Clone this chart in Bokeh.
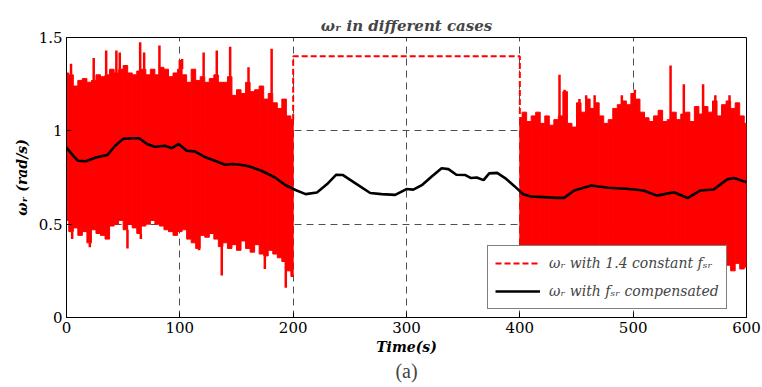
import numpy as np
from bokeh.plotting import figure
from bokeh.models import Range1d, FixedTicker, Legend, LegendItem, Title
from bokeh.embed import file_html
from bokeh.resources import INLINE

# ---------------- data ----------------
# case 1: 0-200 s and 400-600 s, noisy omega_r with constant f_sr (envelope every 4 s)
t1 = list(range(0, 201, 4))
hi1 = [1.31, 1.30, 1.24, 1.27, 1.28, 1.26, 1.27, 1.30, 1.29, 1.30, 1.33, 1.31, 1.33,
       1.35, 1.31, 1.30, 1.32, 1.33, 1.30, 1.33, 1.30, 1.34, 1.33, 1.29, 1.31, 1.33,
       1.30, 1.26, 1.33, 1.27, 1.29, 1.26, 1.28, 1.30, 1.26, 1.26, 1.29, 1.19, 1.22,
       1.20, 1.26, 1.21, 1.22, 1.24, 1.17, 1.20, 1.15, 1.12, 1.17, 1.08, 1.06]
lo1 = [0.52, 0.46, 0.48, 0.44, 0.46, 0.40, 0.47, 0.45, 0.44, 0.42, 0.49, 0.50, 0.52,
       0.47, 0.50, 0.48, 0.45, 0.49, 0.50, 0.52, 0.50, 0.49, 0.47, 0.46, 0.44, 0.46,
       0.47, 0.42, 0.40, 0.37, 0.44, 0.43, 0.45, 0.42, 0.38, 0.40, 0.37, 0.39, 0.36,
       0.41, 0.37, 0.35, 0.39, 0.34, 0.33, 0.36, 0.34, 0.32, 0.30, 0.25, 0.22]
t2 = list(range(400, 601, 4))
hi2 = [1.07, 1.10, 1.05, 1.08, 1.10, 1.04, 1.08, 1.03, 1.06, 1.08, 1.21, 1.04, 1.02,
       1.15, 1.10, 1.17, 1.12, 1.15, 1.08, 1.04, 1.06, 1.12, 1.14, 1.16, 1.14, 1.20,
       1.17, 1.10, 1.07, 1.05, 1.08, 1.11, 1.05, 1.06, 1.10, 1.06, 1.09, 1.10, 1.05,
       1.13, 1.09, 1.13, 1.10, 1.16, 1.08, 1.14, 1.16, 1.12, 1.15, 1.08, 1.04]
lo2 = [0.30, 0.28, 0.33, 0.27, 0.31, 0.29, 0.34, 0.28, 0.30, 0.26, 0.32, 0.29, 0.27,
       0.33, 0.30, 0.28, 0.31, 0.26, 0.29, 0.32, 0.28, 0.30, 0.27, 0.31, 0.29, 0.33,
       0.28, 0.30, 0.26, 0.31, 0.29, 0.27, 0.32, 0.30, 0.28, 0.31, 0.27, 0.29, 0.33,
       0.28, 0.30, 0.26, 0.29, 0.31, 0.27, 0.30, 0.28, 0.25, 0.29, 0.26, 0.27]
spike_up_t = [4, 24, 35, 44, 47, 54, 65, 68.5, 82, 100, 102, 121, 132.6, 144.4, 160.6, 181,
              435, 439.5, 452.6, 458.5, 466, 490, 501.5, 533, 544.7, 561.7, 572.5, 585]
spike_up_v = [1.36, 1.39, 1.43, 1.43, 1.42, 1.35, 1.475, 1.42, 1.457, 1.38, 1.385, 1.42, 1.43,
              1.45, 1.34, 1.44, 1.30, 1.22, 1.17, 1.19, 1.19, 1.19, 1.22, 1.35, 1.25, 1.25,
              1.19, 1.19]
spike_dn_t = [5, 20.6, 53.8, 65.6, 117, 137, 175, 193.5]
spike_dn_v = [0.42, 0.377, 0.37, 0.42, 0.36, 0.225, 0.26, 0.16]
const_t = [200, 200, 400, 400]
const_v = [1.06, 1.40, 1.40, 1.07]

# case 2: omega_r with f_sr compensated
comp_t = [0, 6, 10, 17, 26, 36, 43, 50, 58, 64, 71, 78, 87, 93, 99, 106, 113, 122, 131,
          140, 146, 152, 161, 172, 184, 193, 202, 211, 221, 230, 238, 244, 254, 268, 278,
          290, 300, 306, 314, 322, 331, 337, 344, 352, 357, 362, 368, 373, 380, 387, 395,
          403, 410, 421, 431, 439, 448, 463, 478, 494, 509, 521, 536, 548, 559, 571, 583,
          589, 600]
comp_w = [0.91, 0.866, 0.84, 0.837, 0.857, 0.87, 0.92, 0.957, 0.96, 0.96, 0.93, 0.915,
          0.92, 0.907, 0.93, 0.893, 0.89, 0.86, 0.84, 0.818, 0.822, 0.82, 0.81, 0.786,
          0.75, 0.71, 0.683, 0.661, 0.67, 0.715, 0.765, 0.763, 0.723, 0.667, 0.661, 0.657,
          0.688, 0.685, 0.711, 0.754, 0.80, 0.795, 0.765, 0.763, 0.747, 0.75, 0.736, 0.772,
          0.775, 0.747, 0.705, 0.66, 0.648, 0.645, 0.641, 0.641, 0.68, 0.707, 0.695, 0.69,
          0.68, 0.653, 0.671, 0.64, 0.68, 0.686, 0.74, 0.747, 0.725]

x_ticks = [0, 100, 200, 300, 400, 500, 600]
y_ticks = [0, 0.5, 1, 1.5]
y_tick_labels = ["0", "0.5", "1", "1.5"]

label_const = "\u03c9\u1d63 with 1.4 constant f\u209b\u1d63"
label_comp = "\u03c9\u1d63 with f\u209b\u1d63 compensated"

RED = "#ff0000"
SERIF = "DejaVu Serif"

# ---------------- figure ----------------
p = figure(width=762, height=387, x_range=Range1d(0, 600), y_range=Range1d(0, 1.5),
           output_backend="svg", toolbar_location=None,
           min_border_left=66, min_border_right=16, min_border_top=37, min_border_bottom=70)
p.background_fill_color = "white"
p.outline_line_color = "black"
p.outline_line_width = 1

p.title.text = "\u03c9\u1d63 in different cases"
p.title.align = "center"
p.title.text_font = SERIF
p.title.text_font_style = "bold italic"
p.title.text_font_size = "15px"
p.title.standoff = 6

# grid
p.xgrid.ticker = FixedTicker(ticks=x_ticks[1:-1])
p.ygrid.ticker = FixedTicker(ticks=y_ticks[1:-1])
for g in (p.xgrid, p.ygrid):
    g.grid_line_color = "#505050"
    g.grid_line_dash = "7 5"
    g.grid_line_width = 1

# red noisy band (case 1)
def band(t, hi, lo, a, b):
    t = np.array(t, dtype=float)
    left = np.clip(t - 2, a, b)
    right = np.clip(t + 2, a, b)
    p.quad(left=left, right=right, bottom=lo, top=hi, fill_color=RED, line_color=RED,
           line_width=1)

band(t1, hi1, lo1, 0, 200)
band(t2, hi2, lo2, 400, 600)

t_all = np.array(t1 + t2, dtype=float)
hi_all = np.array(hi1 + hi2)
lo_all = np.array(lo1 + lo2)
su_base = [hi_all[np.argmin(np.abs(t_all - s))] for s in spike_up_t]
sd_base = [lo_all[np.argmin(np.abs(t_all - s))] for s in spike_dn_t]
p.segment(x0=spike_up_t, y0=su_base, x1=spike_up_t, y1=spike_up_v, line_color=RED, line_width=2.5)
p.segment(x0=spike_dn_t, y0=sd_base, x1=spike_dn_t, y1=spike_dn_v, line_color=RED, line_width=2.5)

r_const = p.line(const_t, const_v, line_color=RED, line_width=2, line_dash="6 3")
r_comp = p.line(comp_t, comp_w, line_color="black", line_width=2.6)

# axes
for ax in (p.xaxis, p.yaxis):
    ax.axis_line_color = "black"
    ax.major_tick_in = 5
    ax.major_tick_out = 0
    ax.minor_tick_line_color = None
    ax.major_label_text_font = SERIF
    ax.major_label_text_font_size = "15px"
    ax.major_label_text_color = "black"
    ax.axis_label_text_font = SERIF
    ax.axis_label_text_font_style = "bold italic"
    ax.axis_label_text_font_size = "14px"
    ax.axis_label_text_color = "black"
p.xaxis.ticker = FixedTicker(ticks=x_ticks)
p.yaxis.ticker = FixedTicker(ticks=y_ticks)
p.yaxis.major_label_overrides = {(int(v) if float(v).is_integer() else v): s
                                 for v, s in zip(y_ticks, y_tick_labels)}
p.xaxis.axis_label = "Time(s)"
p.yaxis.axis_label = "\u03c9\u1d63 (rad/s)"
p.xaxis.major_label_standoff = 4
p.yaxis.major_label_standoff = 4
p.xaxis.axis_label_standoff = 3
p.yaxis.axis_label_standoff = 6

# legend
legend = Legend(items=[LegendItem(label=label_const, renderers=[r_const]),
                       LegendItem(label=label_comp, renderers=[r_comp])],
                location=(421, 8), orientation="vertical")
legend.label_text_font = SERIF
legend.label_text_font_style = "italic"
legend.label_text_font_size = "14px"
legend.glyph_width = 45
legend.glyph_height = 20
legend.label_height = 20
legend.label_standoff = 9
legend.spacing = 8
legend.padding = 7
legend.margin = 0
legend.border_line_color = "black"
legend.border_line_width = 1
legend.background_fill_color = "white"
legend.background_fill_alpha = 1
p.add_layout(legend)

cap = Title(text="(a)", align="center", text_font="Liberation Serif", text_font_size="20px",
            text_font_style="normal", standoff=0)
p.add_layout(cap, "below")

open("out.html", "w").write(file_html(p, INLINE))
